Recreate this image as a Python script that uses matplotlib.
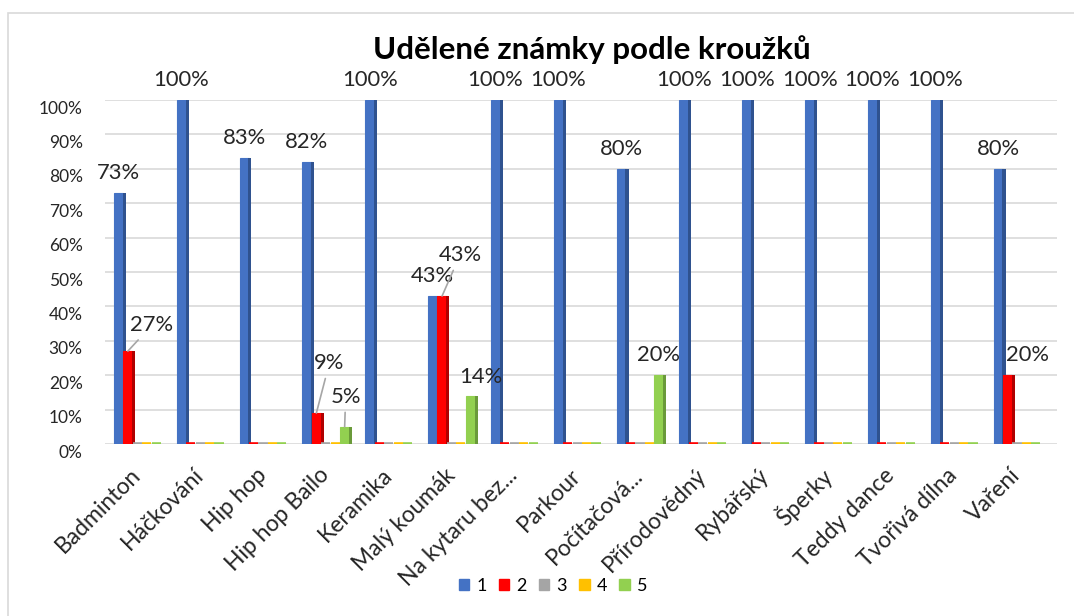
import numpy as np
import matplotlib
matplotlib.use("Agg")
import matplotlib.pyplot as plt
import matplotlib.transforms as mtransforms
from matplotlib.patches import Patch, Rectangle

plt.rcParams['font.family'] = ['Lato', 'DejaVu Sans']

title = "Udělené známky podle kroužků"
categories = ["Badminton", "Háčkování", "Hip hop", "Hip hop Bailo", "Keramika",
              "Malý koumák", "Na kytaru bez...", "Parkour", "Počítačová...",
              "Přírodovědný", "Rybářský", "Šperky", "Teddy dance", "Tvořivá dílna",
              "Vaření"]
series_names = ["1", "2", "3", "4", "5"]
grade1 = [73, 100, 83, 82, 100, 43, 100, 100, 80, 100, 100, 100, 100, 100, 80]
grade2 = [27, 0, 0, 9, 0, 43, 0, 0, 0, 0, 0, 0, 0, 0, 20]
grade3 = [0] * 15
grade4 = [0] * 15
grade5 = [0, 0, 0, 5, 0, 14, 0, 0, 20, 0, 0, 0, 0, 0, 0]
y_ticks = list(range(0, 101, 10))

series = [grade1, grade2, grade3, grade4, grade5]
colors = ["#4472C4", "#FF0000", "#A5A5A5", "#FFC000", "#92D050"]
dark = ["#2F528F", "#B00000", "#7F7F7F", "#BF9000", "#6A9A3A"]

# label offsets in pixels (dx, dy, leader line) for special labels
label_offsets = {
    (1, 0): (24, 26, True),
    (1, 3): (13, 50, True),
    (4, 3): (1, 30, True),
    (1, 5): (18, 41, True),
    (4, 5): (10, 19, False),
    (1, 14): (20, 20, False),
}

W, H = 1074, 616
fig = plt.figure(figsize=(W / 100, H / 100), dpi=100)
ax = fig.add_axes([105 / W, 1 - 444 / H, (1057 - 105) / W, 344 / H])

x = np.arange(len(categories))
pitch = 0.15
face_w = 0.145
side_w = 0.05

for i, vals in enumerate(series):
    pos = x + (i - 2) * pitch
    lws = [2.6 if v == 0 else 0.8 for v in vals]
    ax.bar(pos, vals, width=face_w, color=colors[i], edgecolor=colors[i],
           linewidth=lws, zorder=3 + 2 * i)
    ax.bar(pos + face_w / 2 + side_w / 2 - 0.005, vals, width=side_w,
           color=dark[i], linewidth=0, zorder=3 + 2 * i)
    for j, v in enumerate(vals):
        if v == 0:
            continue
        dx, dy, leader = label_offsets.get((i, j), (0, 20, False))
        ax.annotate(f"{v}%", xy=(pos[j], v), xytext=(dx, dy),
                    textcoords='offset pixels', ha='center', va='center',
                    fontsize=15.8, color='#262626', zorder=20,
                    arrowprops=(dict(arrowstyle='-', color='#A6A6A6', lw=1.2,
                                     shrinkA=2, shrinkB=0) if leader else None))

ax.set_xlim(-0.514, 14.637)
ax.set_ylim(0, 100)
ax.set_yticks(y_ticks)
ax.set_yticklabels([f"{t}%" for t in y_ticks], fontsize=12.5, color='#262626')
ax.set_xticks(x)
ax.set_xticklabels(categories, rotation=45, ha='right', va='center',
                   rotation_mode='anchor', fontsize=16.5, color='#262626')
ax.tick_params(axis='both', length=0)
ax.tick_params(axis='y', pad=16)
ax.tick_params(axis='x', pad=20)
off = mtransforms.ScaledTranslation(0, -7 / 100, fig.dpi_scale_trans)
for lab in ax.get_yticklabels():
    lab.set_transform(lab.get_transform() + off)
ax.grid(axis='y', color='#D9D9D9', linewidth=1.2, zorder=0)
ax.set_axisbelow(True)
for s in ax.spines.values():
    s.set_visible(False)

fig.text(592 / W, 1 - 50 / H, title, ha='center', va='center',
         fontsize=22.5, fontweight='bold', color='black')

handles = [Patch(facecolor=c, edgecolor=c) for c in colors]
fig.legend(handles, series_names, loc='center', bbox_to_anchor=(553 / W, 1 - 586 / H),
           ncol=5, frameon=False, handlelength=0.6, handleheight=0.6,
           columnspacing=0.64, handletextpad=0.4, fontsize=13)

fig.patches.append(Rectangle((8 / W, -0.1), 2, 1 - 13 / H + 0.1,
                             transform=fig.transFigure, fill=False,
                             edgecolor='#D9D9D9', linewidth=1.2))

fig.savefig("out.png", dpi=100)
